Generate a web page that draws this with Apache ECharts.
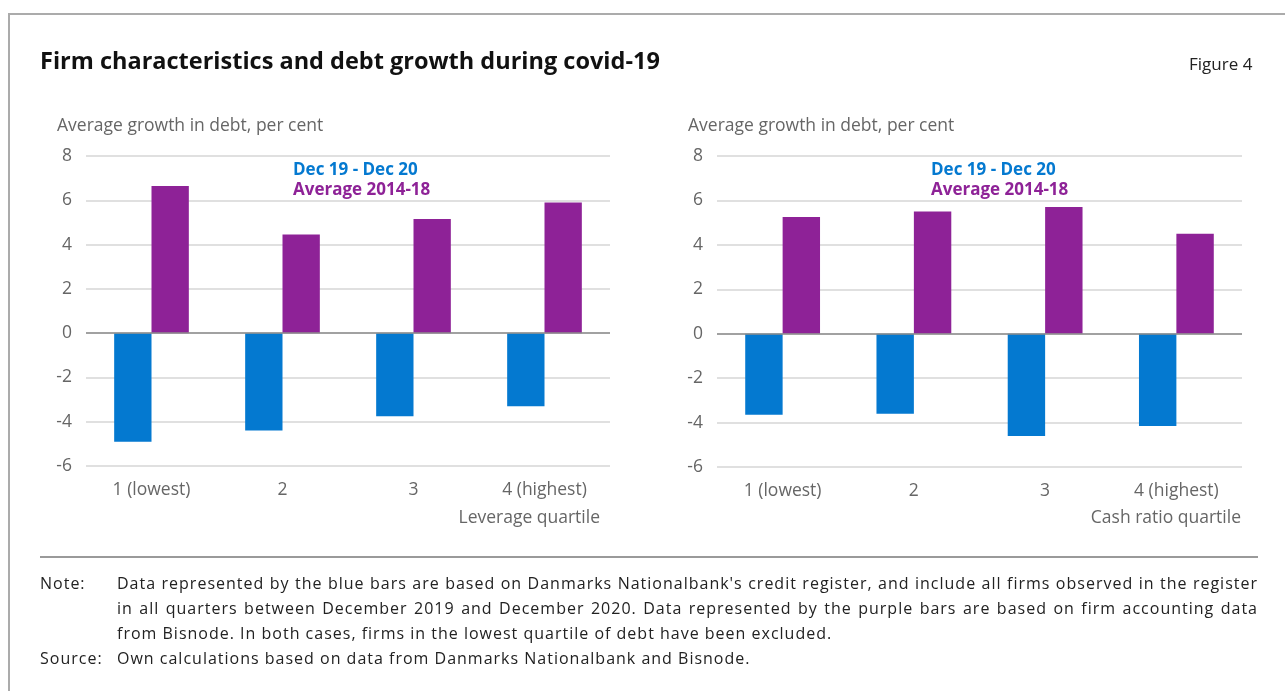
<!DOCTYPE html>
<html>
<head>
<meta charset="utf-8">
<script src="https://cdn.jsdelivr.net/npm/echarts@6/dist/echarts.min.js"></script>
<style>
  html, body { margin: 0; padding: 0; background: #fff; }
  #wrap { position: relative; width: 1285px; height: 691px; overflow: hidden; font-family: "Open Sans", "Noto Sans", sans-serif; }
  #frame { position: absolute; left: 8px; top: 13px; width: 1400px; height: 800px; border-top: 2px solid #ababab; border-left: 2px solid #ababab; }
  #main { position: absolute; left: 0; top: 0; width: 1285px; height: 691px; }
  .note { position: absolute; font-size: 16px; line-height: 25px; color: #222; letter-spacing: 1px; white-space: nowrap; }
  .lbl { left: 40px; }
  .body { left: 117px; width: 1141px; }
  .fill { text-align: justify; text-align-last: justify; }
</style>
</head>
<body>
<div id="wrap">
  <div id="frame"></div>
  <div id="main"></div>
  <div class="note lbl" style="top:571px">Note:</div>
  <div class="note body fill" style="top:571px">Data represented by the blue bars are based on Danmarks Nationalbank's credit register, and include all firms observed in the register</div>
  <div class="note body fill" style="top:596px">in all quarters between December 2019 and December 2020. Data represented by the purple bars are based on firm accounting data</div>
  <div class="note body" style="top:621px">from Bisnode. In both cases, firms in the lowest quartile of debt have been excluded.</div>
  <div class="note lbl" style="top:646px">Source:</div>
  <div class="note body" style="top:646px">Own calculations based on data from Danmarks Nationalbank and Bisnode.</div>
</div>
<script>
// quartile categories, same for both panels
const categories = ['1 (lowest)', '2', '3', '4 (highest)']
const seriesNames = ['Dec 19 - Dec 20', 'Average 2014-18']

// leverage quartile panel
const leverageRecent = [-4.9, -4.4, -3.75, -3.3]
const leverageAverage = [6.65, 4.45, 5.15, 5.9]

// cash ratio quartile panel
const cashRecent = [-3.65, -3.6, -4.6, -4.15]
const cashAverage = [5.25, 5.5, 5.7, 4.5]

const yMin = -6, yMax = 8, yStep = 2

const BLUE = '#0479d0'
const PURPLE = '#8e2297'
const GREY = '#666666'
const FONT = '"Open Sans", "Noto Sans", sans-serif'
const FS = 17.5

let chart = echarts.init(document.getElementById('main'))

function xAx(i) {
    return {
        type: 'category', gridIndex: i, data: categories,
        axisLine: {show: false}, axisTick: {show: false},
        axisLabel: {color: GREY, fontSize: FS, fontFamily: FONT, margin: 15}
    }
}
function yAx(i) {
    return {
        type: 'value', gridIndex: i, min: yMin, max: yMax, interval: yStep,
        axisLine: {show: false}, axisTick: {show: false},
        axisLabel: {color: GREY, fontSize: FS, fontFamily: FONT, margin: 14},
        splitLine: {lineStyle: {color: '#d6d6d6', width: 1.5}}
    }
}
function bars(i, name, data, color, zero) {
    let s = {
        type: 'bar', name: name, xAxisIndex: i, yAxisIndex: i, data: data,
        itemStyle: {color: color}, barGap: 0, barCategoryGap: '43%', silent: true
    }
    if (zero) {
        s.markLine = {
            silent: true, symbol: 'none', label: {show: false},
            lineStyle: {color: '#8c8c8c', width: 1.5, type: 'solid'},
            data: [{yAxis: 0}]
        }
    }
    return s
}
function legend(left) {
    return {
        left: left, top: 156, orient: 'vertical', icon: 'none',
        itemWidth: 0, itemHeight: 14, itemGap: 2, selectedMode: false,
        textStyle: {fontSize: 17, fontWeight: 'bold', fontFamily: FONT, lineHeight: 18},
        data: [
            {name: seriesNames[0], textStyle: {color: BLUE}},
            {name: seriesNames[1], textStyle: {color: PURPLE}}
        ]
    }
}
function txt(pos, text, style) {
    return Object.assign({
        type: 'text', silent: true,
        style: Object.assign({text: text, fill: GREY, fontSize: FS, fontFamily: FONT}, style)
    }, pos)
}

let option = {
    animation: false,
    grid: [
        {left: 86, right: 675, top: 156, bottom: 225},
        {left: 717, right: 43, top: 156, bottom: 224}
    ],
    xAxis: [xAx(0), xAx(1)],
    yAxis: [yAx(0), yAx(1)],
    legend: [legend(283), legend(921)],
    series: [
        bars(0, seriesNames[0], leverageRecent, BLUE, true),
        bars(0, seriesNames[1], leverageAverage, PURPLE, false),
        bars(1, seriesNames[0], cashRecent, BLUE, true),
        bars(1, seriesNames[1], cashAverage, PURPLE, false)
    ],
    graphic: [
        txt({left: 40, top: 50}, 'Firm characteristics and debt growth during covid-19',
            {fill: '#111', fontSize: 23.5, fontWeight: 'bold'}),
        txt({left: 1189, top: 57}, 'Figure 4', {fill: '#222', fontSize: 17}),
        txt({left: 57, top: 117}, 'Average growth in debt, per cent'),
        txt({left: 688, top: 117}, 'Average growth in debt, per cent'),
        txt({right: 685, top: 509}, 'Leverage quartile'),
        txt({right: 44, top: 509}, 'Cash ratio quartile'),
        {type: 'rect', left: 40, top: 556, silent: true,
            shape: {width: 1218, height: 2}, style: {fill: '#9a9a9a'}}
    ]
}
chart.setOption(option)
</script>
</body>
</html>
